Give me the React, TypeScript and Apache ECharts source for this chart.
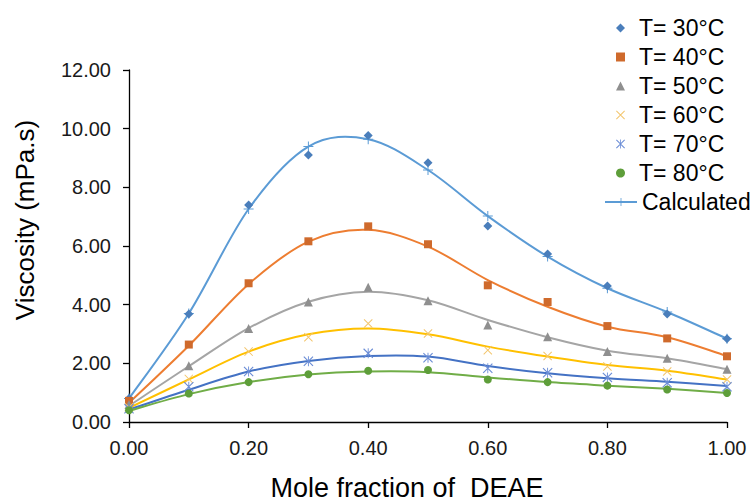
import React, { useEffect, useRef } from "react";
import * as echarts from "echarts";

const xValues = [0, 0.1, 0.2, 0.3, 0.4, 0.5, 0.6, 0.7, 0.8, 0.9, 1.0];

const exp30 = [0.80, 3.68, 7.40, 9.10, 9.77, 8.84, 6.68, 5.73, 4.64, 3.68, 2.84];
const exp40 = [0.72, 2.64, 4.73, 6.16, 6.67, 6.06, 4.66, 4.09, 3.27, 2.85, 2.24];
const exp50 = [0.60, 1.92, 3.19, 4.09, 4.59, 4.13, 3.31, 2.91, 2.40, 2.17, 1.80];
const exp60 = [0.50, 1.47, 2.40, 2.89, 3.36, 3.02, 2.45, 2.25, 1.89, 1.72, 1.45];
const exp70 = [0.45, 1.20, 1.72, 2.07, 2.34, 2.19, 1.83, 1.68, 1.52, 1.34, 1.20];
const exp80 = [0.40, 0.97, 1.36, 1.63, 1.75, 1.77, 1.45, 1.36, 1.24, 1.11, 0.99];

const calc30 = [0.80, 3.70, 7.26, 9.39, 9.64, 8.59, 7.02, 5.64, 4.56, 3.75, 2.84];
const calc40 = [0.65, 2.60, 4.70, 6.15, 6.55, 5.98, 4.84, 3.93, 3.25, 2.89, 2.25];
const calc50 = [0.55, 1.90, 3.20, 4.10, 4.44, 4.15, 3.48, 2.89, 2.43, 2.17, 1.80];
const calc60 = [0.48, 1.45, 2.40, 2.99, 3.19, 2.99, 2.57, 2.23, 1.94, 1.75, 1.45];
const calc70 = [0.42, 1.10, 1.72, 2.08, 2.25, 2.23, 1.91, 1.66, 1.49, 1.37, 1.23];
const calc80 = [0.38, 0.95, 1.36, 1.62, 1.72, 1.70, 1.52, 1.36, 1.24, 1.13, 0.99];

const expNames = ["T= 30°C", "T= 40°C", "T= 50°C", "T= 60°C", "T= 70°C", "T= 80°C"];
const calcName = "Calculated";
const xTitle = "Mole fraction of  DEAE";
const yTitle = "Viscosity (mPa.s)";

const CROSS = "path://M0,0.8L0.8,0L10,9.2L9.2,10Z M9.2,0L10,0.8L0.8,10L0,9.2Z";
const STAR = "path://M0,0.8L0.8,0L10,9.2L9.2,10Z M9.2,0L10,0.8L0.8,10L0,9.2Z M4.55,0H5.45V10H4.55Z";
const PLUS = "path://M0,4.5H10V5.5H0Z M4.5,0H5.5V10H4.5Z";

const FONT = "'Liberation Sans', Arial, sans-serif";

export default function App() {
  const ref = useRef<HTMLDivElement>(null);
  useEffect(() => {
    if (!ref.current) return;
    const chart = echarts.init(ref.current, undefined, { renderer: "svg" });
    const pair = (ys: number[]) => xValues.map((x, i) => [x, ys[i]]);
    const expData = [exp30, exp40, exp50, exp60, exp70, exp80];
    const calcData = [calc30, calc40, calc50, calc60, calc70, calc80];
    const expSymbols = ["diamond", "rect", "triangle", CROSS, STAR, "circle"];
    const expSizes = [9, 8, 9, 9, 10, 8];
    const expColors = ["#4A7EBB", "#CF6A2C", "#8F8F8F", "#F3C66E", "#6B8DD6", "#5E9E3A"];
    const lineColors = ["#5B9BD5", "#ED7D31", "#A5A5A5", "#FFC000", "#4472C4", "#70AD47"];

    // Smooth curves (Catmull-Rom style, like a spreadsheet "smoothed line"),
    // positioned through the chart's own scales via api.coord.
    const curveSeries = {
      type: "custom",
      name: "curves",
      silent: true,
      z: 2,
      data: calcData.map((_, i) => [0.5, 0, i]),
      encode: { x: 0, y: 1 },
      renderItem: (params: any, api: any) => {
        const ci = params.dataIndex;
        const ys = calcData[ci];
        const pts = xValues.map((x, k) => api.coord([x, ys[k]]));
        let d = `M${pts[0][0]},${pts[0][1]}`;
        for (let k = 0; k < pts.length - 1; k++) {
          const p0 = pts[Math.max(0, k - 1)];
          const p1 = pts[k];
          const p2 = pts[k + 1];
          const p3 = pts[Math.min(pts.length - 1, k + 2)];
          const c1x = p1[0] + (p2[0] - p0[0]) / 6;
          const c1y = p1[1] + (p2[1] - p0[1]) / 6;
          const c2x = p2[0] - (p3[0] - p1[0]) / 6;
          const c2y = p2[1] - (p3[1] - p1[1]) / 6;
          d += ` C${c1x},${c1y} ${c2x},${c2y} ${p2[0]},${p2[1]}`;
        }
        return {
          type: "path",
          shape: { pathData: d },
          style: { stroke: lineColors[ci], lineWidth: 2, fill: "none" },
        };
      },
    };

    const calcMarkers = {
      type: "line",
      name: calcName,
      data: pair(calc30),
      symbol: PLUS,
      symbolSize: 10,
      showSymbol: true,
      lineStyle: { width: 0, color: lineColors[0] },
      itemStyle: { color: lineColors[0] },
      z: 3,
    };

    const scatterSeries = expData.map((d, i) => ({
      type: "scatter",
      name: expNames[i],
      data: pair(d),
      symbol: expSymbols[i],
      symbolSize: expSizes[i],
      itemStyle: { color: expColors[i], opacity: 1 },
      z: 4,
    }));

    chart.setOption({
      animation: false,
      backgroundColor: "#ffffff",
      grid: { left: 129, right: 25, top: 70, bottom: 82 },
      xAxis: {
        type: "value",
        min: 0,
        max: 1,
        interval: 0.2,
        splitLine: { show: false },
        axisLine: { show: true, lineStyle: { color: "#000", width: 1.3 } },
        axisTick: { show: true, length: 6, lineStyle: { color: "#000", width: 1.3 } },
        axisLabel: {
          margin: 16,
          fontFamily: FONT,
          fontSize: 20,
          color: "#1a1a1a",
          formatter: (v: number) => v.toFixed(2),
        },
      },
      yAxis: {
        type: "value",
        min: 0,
        max: 12,
        interval: 2,
        splitLine: { show: false },
        axisLine: { show: true, lineStyle: { color: "#000", width: 1.3 } },
        axisTick: { show: true, length: 6, lineStyle: { color: "#000", width: 1.3 } },
        axisLabel: {
          margin: 18,
          fontFamily: FONT,
          fontSize: 20,
          color: "#1a1a1a",
          formatter: (v: number) => v.toFixed(2),
        },
      },
      legend: [
        {
          orient: "vertical",
          left: 611,
          top: 11,
          itemWidth: 9,
          itemHeight: 9,
          itemGap: 5,
          data: expNames,
          textStyle: { fontFamily: FONT, fontSize: 23, color: "#000", lineHeight: 24, padding: [0, 0, 0, 9] },
        },
        {
          orient: "vertical",
          left: 599,
          top: 185,
          itemWidth: 32,
          itemHeight: 10,
          data: [{ name: calcName, lineStyle: { width: 2, color: lineColors[0] } }],
          textStyle: { fontFamily: FONT, fontSize: 23, color: "#000", lineHeight: 24, padding: [0, 0, 0, 0] },
        },
      ],
      graphic: [
        {
          type: "text",
          x: 25,
          y: 220,
          rotation: Math.PI / 2,
          style: {
            text: yTitle,
            fontFamily: FONT,
            fontSize: 26,
            fill: "#000",
            textAlign: "center",
            textVerticalAlign: "middle",
          },
        },
        {
          type: "text",
          x: 407,
          y: 488,
          style: {
            text: xTitle,
            fontFamily: FONT,
            fontSize: 27,
            fill: "#000",
            textAlign: "center",
            textVerticalAlign: "middle",
          },
        },
      ],
      series: [curveSeries, calcMarkers, ...scatterSeries],
    });
    return () => chart.dispose();
  }, []);
  return (
    <div
      ref={ref}
      style={{ position: "fixed", left: 0, top: 0, width: 752, height: 504 }}
    />
  );
}
